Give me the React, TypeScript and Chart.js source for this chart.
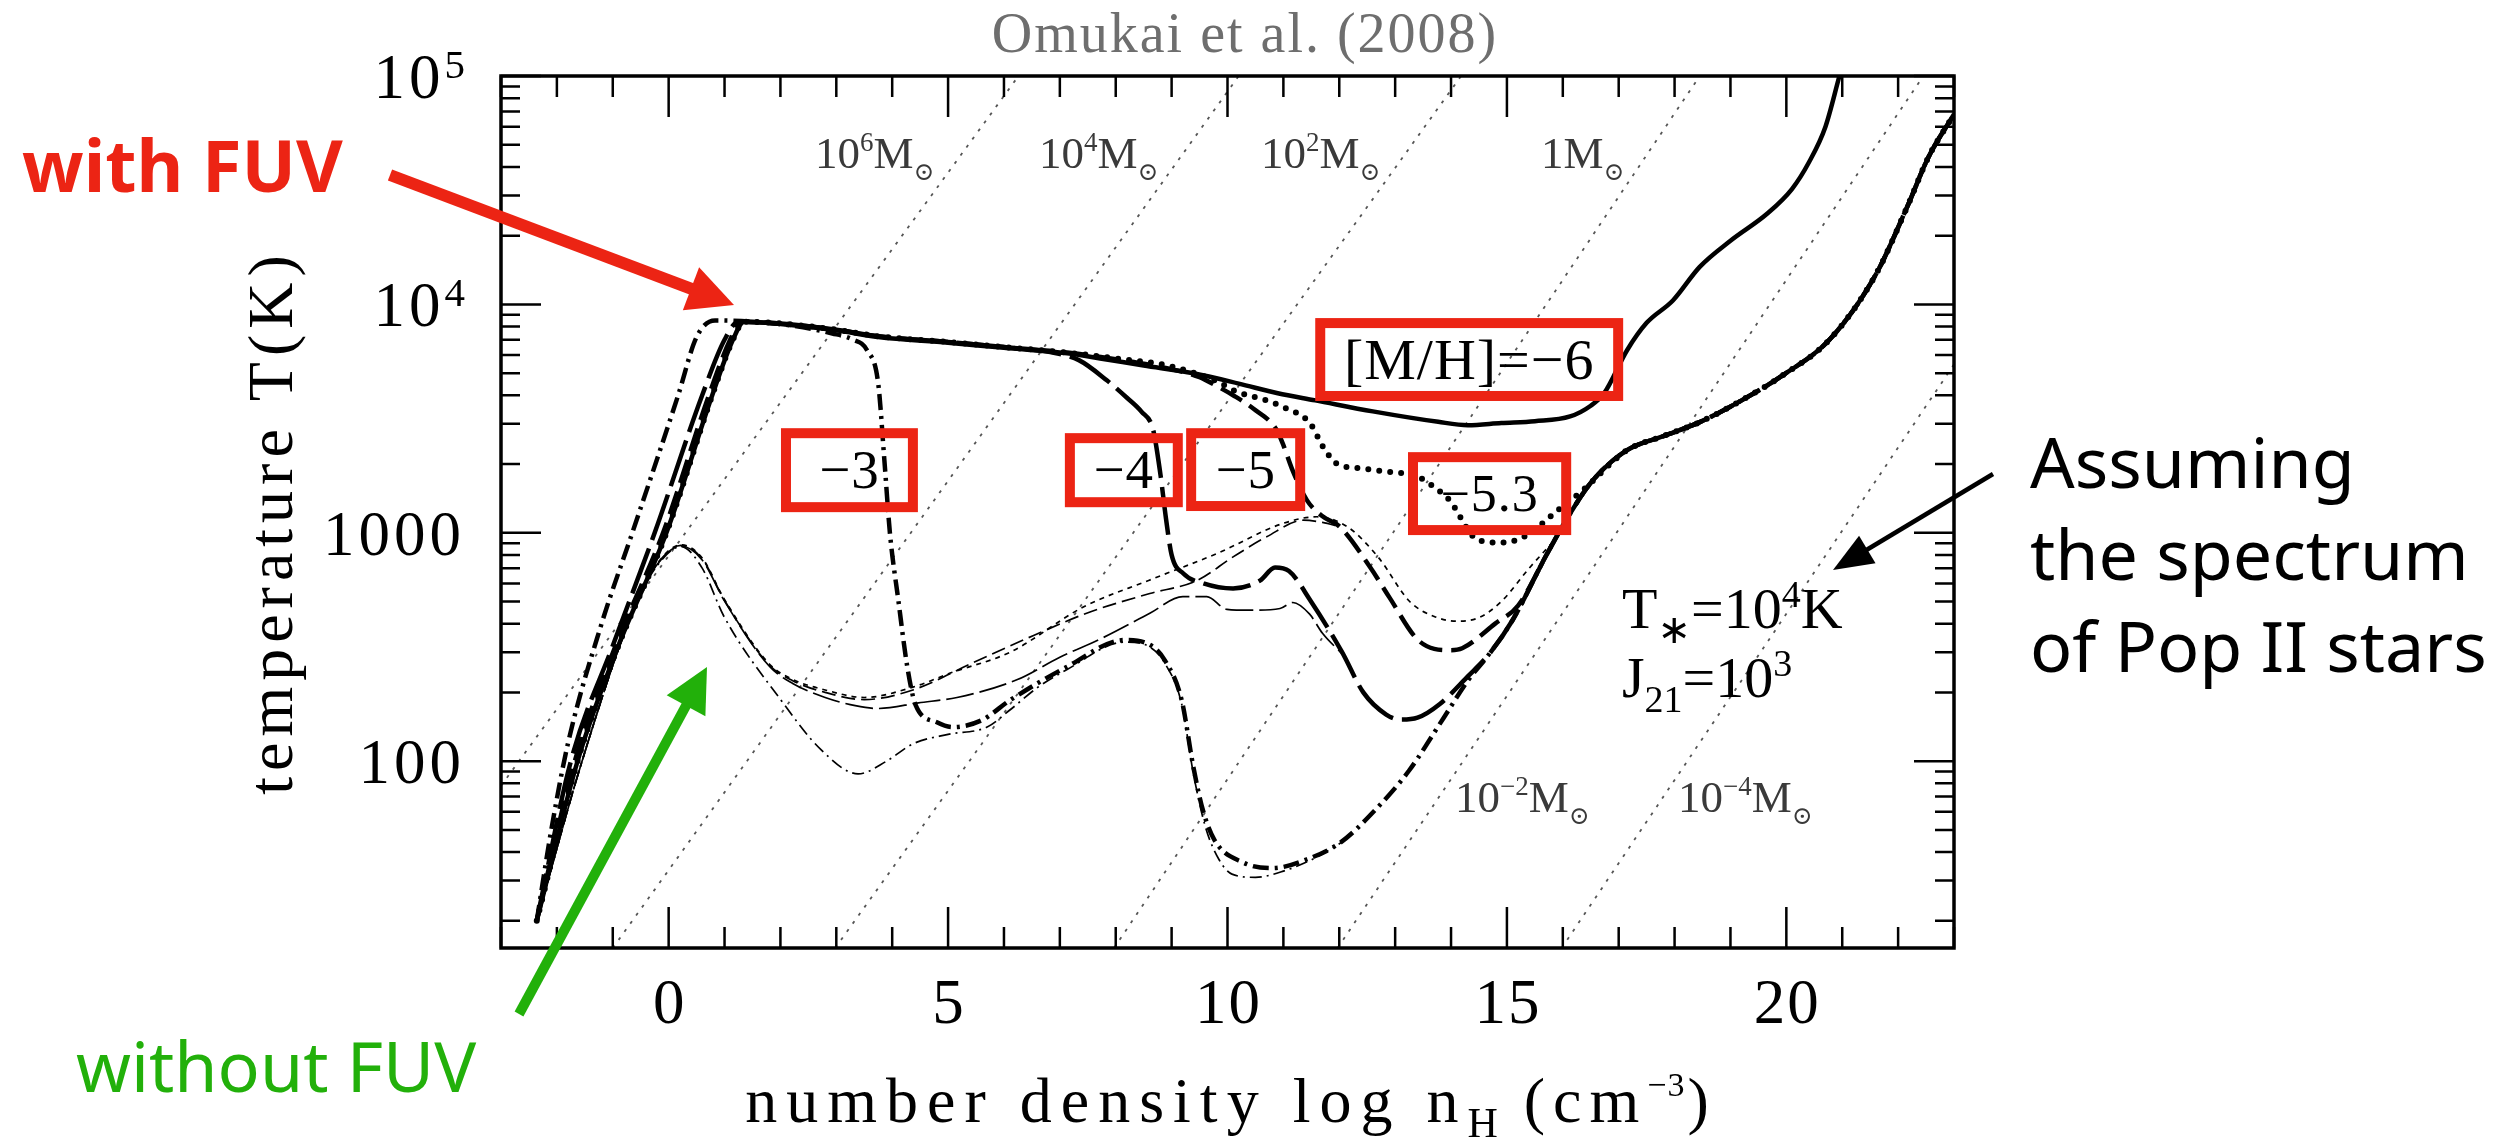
import { useEffect, useRef } from 'react';
import { Chart, registerables } from 'chart.js';

Chart.register(...registerables);

type Pt = [number, number];

const W = 2514;
const H = 1141;

// axis ranges: log n_H [cm^-3] and T [K]
const logNMin = -3;
const logNMax = 23;
const tempMin = 15.2;
const tempMax = 1e5;

const xTickValues = [0, 5, 10, 15, 20];
const xTickLabels = ['0', '5', '10', '15', '20'];
const yTickValues = [1e5, 1e4, 1e3, 1e2];
const yTickBase = ['10', '10', '1000', '100'];
const yTickExp = ['5', '4', '', ''];

// Jeans-mass reference lines (end points, log n_H and T)
const jeansLine6: Pt[] = [[-3, 78], [6.26, 1e5]];
const jeansLine4: Pt[] = [[-1.0, 15.2], [10.2, 1e5]];
const jeansLine2: Pt[] = [[2.98, 15.2], [14.18, 1e5]];
const jeansLine0: Pt[] = [[7.97, 15.2], [18.45, 1e5]];
const jeansLineM2: Pt[] = [[11.97, 15.2], [22.45, 1e5]];
const jeansLineM4: Pt[] = [[15.98, 15.2], [23, 5460]];
const jeansLabelBase = ['10', '10', '10', '1', '10', '10'];
const jeansLabelExp = ['6', '4', '2', '', '−2', '−4'];

// with FUV (J21 = 10^3, T* = 10^4 K), thick lines
const fuvM6: Pt[] = [
  [-2.36, 20], [-1.63, 100], [-0.9, 320], [-0.04, 1000], [0.78, 4000], [1.15, 7000], [1.35, 8400],
  [2.0, 8200], [3.0, 7700], [3.75, 7200], [5.0, 6800], [6.0, 6450], [7.13, 6110], [7.72, 5800],
  [8.5, 5400], [9.39, 4990], [10.2, 4500], [10.9, 4080], [11.57, 3800], [12.6, 3400], [13.77, 3060],
  [14.3, 2960], [14.9, 3025], [15.5, 3080], [16.13, 3230], [16.5, 3600], [16.74, 4080], [17.15, 6300],
  [17.5, 8300], [17.97, 10400], [18.45, 14600], [19.0, 19000], [19.66, 25000], [20.1, 32000],
  [20.4, 41700], [20.7, 60000], [20.95, 100000],
];
const fuvM53: Pt[] = [
  [-2.36, 20], [-1.63, 100], [-0.9, 320], [-0.04, 1000], [0.78, 4000], [1.15, 7000], [1.35, 8400],
  [2.0, 8250], [3.0, 7750], [3.75, 7250], [5.0, 6850], [6.0, 6500], [7.13, 6150], [8.0, 5800],
  [9.0, 5350], [9.81, 4600], [10.16, 4150], [10.69, 3800], [11.0, 3550], [11.48, 3010], [11.71, 2380],
  [11.95, 2010], [12.37, 1915], [12.79, 1860], [13.4, 1760], [13.75, 1550], [13.97, 1390], [14.48, 930],
  [14.9, 905], [15.3, 960], [15.92, 1260], [16.43, 1590], [16.8, 1950], [17.15, 2300], [17.8, 2650],
  [18.45, 3050], [19.2, 3800], [19.94, 4900], [20.77, 7000], [21.6, 13500], [22.17, 27000],
  [22.54, 44000], [23, 68000],
];
const fuvM5: Pt[] = [
  [-2.36, 20], [-1.68, 100], [-0.95, 320], [-0.1, 1000], [0.72, 4000], [1.1, 7000], [1.3, 8400],
  [2.0, 8250], [3.0, 7750], [3.75, 7250], [5.0, 6850], [6.0, 6500], [7.13, 6150], [8.0, 5750],
  [9.0, 5200], [9.5, 4800], [9.8, 4400], [10.1, 4000], [10.46, 3500], [10.88, 2820], [11.0, 2420],
  [11.15, 1915], [11.42, 1390], [11.7, 1180], [12.01, 1062], [12.55, 708], [12.9, 520], [13.38, 345],
  [13.7, 310], [13.98, 306], [14.2, 312], [14.79, 400], [15.2, 480], [15.72, 810], [16.13, 1215],
  [16.54, 1700], [17.15, 2300], [17.8, 2650], [18.45, 3050], [19.2, 3800], [19.94, 4900],
  [20.77, 7000], [21.6, 13500], [22.17, 27000], [22.54, 44000], [23, 68000],
];
const fuvM4: Pt[] = [
  [-2.36, 20], [-1.75, 100], [-1.0, 320], [-0.25, 1000], [0.6, 4000], [1.0, 7000], [1.25, 8400],
  [2.0, 8250], [3.0, 7750], [3.75, 7250], [5.0, 6850], [6.0, 6500], [6.8, 6200], [7.34, 5700],
  [7.84, 4650], [8.2, 3900], [8.46, 3390], [8.67, 2820], [8.8, 1800], [8.9, 1150], [9.0, 800],
  [9.21, 663], [9.57, 600], [10.1, 570], [10.58, 617], [10.85, 705], [11.1, 680], [11.48, 507],
  [12.05, 300], [12.43, 200], [12.84, 160], [13.1, 152], [13.4, 155], [13.8, 178], [14.3, 235],
  [14.69, 296], [15.1, 414], [15.72, 810], [16.13, 1215], [16.54, 1700], [17.15, 2300], [17.8, 2650],
  [18.45, 3050], [19.2, 3800], [19.94, 4900], [20.77, 7000], [21.6, 13500], [22.17, 27000],
  [22.54, 44000], [23, 68000],
];
const fuvM3: Pt[] = [
  [-2.36, 20], [-2.1, 50], [-1.8, 120], [-1.2, 400], [-0.65, 1000], [0.17, 4000], [0.5, 7200],
  [0.83, 8500], [1.3, 8450], [2.0, 8200], [2.93, 7460], [3.3, 7000], [3.55, 6300], [3.75, 4500],
  [3.86, 2080], [3.96, 993], [4.11, 507], [4.27, 259], [4.42, 176], [4.8, 148], [5.08, 141],
  [5.6, 151], [6.11, 185], [7.13, 259], [8.16, 339], [8.57, 327], [8.88, 276], [9.18, 185],
  [9.39, 94], [9.56, 61], [9.77, 45], [10.28, 36], [10.8, 34], [11.4, 37], [12.02, 44], [12.64, 61],
  [13.25, 91], [13.87, 155], [14.3, 225], [14.69, 296], [15.1, 414], [15.72, 810], [16.13, 1215],
  [16.54, 1700], [17.15, 2300], [17.8, 2650], [18.45, 3050], [19.2, 3800], [19.94, 4900],
  [20.77, 7000], [21.6, 13500], [22.17, 27000], [22.54, 44000], [23, 68000],
];

// without FUV, thin lines
const noFuvM53: Pt[] = [
  [-2.36, 20], [-1.55, 100], [-0.6, 480], [-0.2, 735], [0.22, 885], [0.6, 775], [0.99, 515],
  [1.81, 265], [2.22, 228], [2.8, 205], [3.5, 190], [4.37, 211], [5.08, 245], [6.11, 300],
  [7.42, 473], [8.6, 620], [9.81, 811], [11.0, 1100], [11.6, 1175], [12.15, 1060], [12.7, 780],
  [13.26, 500], [13.7, 430], [14.1, 410], [14.5, 425], [14.9, 500], [15.4, 700], [15.8, 900],
];
const noFuvM5: Pt[] = [
  [-2.36, 20], [-1.55, 100], [-0.6, 480], [-0.2, 730], [0.22, 880], [0.6, 770], [0.99, 510],
  [1.81, 262], [2.22, 225], [2.8, 200], [3.5, 186], [4.37, 205], [5.45, 270], [6.53, 355],
  [7.54, 450], [8.61, 542], [9.45, 617], [10.1, 784], [10.7, 960], [11.36, 1135], [11.7, 1110],
  [12.01, 1062],
];
const noFuvM4: Pt[] = [
  [-2.36, 20], [-1.55, 100], [-0.6, 480], [-0.2, 730], [0.22, 875], [0.6, 760], [0.99, 507],
  [1.81, 259], [2.22, 219], [2.8, 190], [3.34, 175], [3.75, 170], [4.47, 180], [5.16, 190],
  [6.23, 227], [7.0, 285], [7.77, 347], [8.61, 444], [9.2, 525], [9.63, 525], [9.99, 462],
  [10.4, 458], [10.94, 466], [11.17, 495], [11.47, 440], [11.7, 363], [12.05, 295],
];
const noFuvM3: Pt[] = [
  [-2.36, 20], [-1.55, 100], [-0.6, 480], [-0.2, 720], [0.22, 870], [0.6, 700], [0.99, 430],
  [2.01, 185], [2.73, 112], [3.39, 88], [3.9, 100], [4.37, 119], [5.0, 131], [5.7, 141], [6.1, 167],
  [6.6, 210], [7.13, 252], [8.16, 332], [8.57, 320], [8.88, 268], [9.18, 178], [9.39, 88], [9.6, 52],
  [9.85, 37], [10.08, 32], [10.5, 31], [11.0, 33], [11.6, 38], [12.1, 45],
];

const SERIF = "'Liberation Serif', 'DejaVu Serif', serif";
const SANS = "'Noto Sans', 'DejaVu Sans', sans-serif";
const RED = '#ec2414';
const GREEN = '#22b00a';

const toXY = (pts: Pt[]) => pts.map(([x, y]) => ({ x, y }));

type Run = { text: string; size: number; dy?: number; ls?: number; gap?: number; family?: string; weight?: string };

function setFont(ctx: CanvasRenderingContext2D, r: Run, family: string) {
  ctx.font = `${r.weight ?? 'normal'} ${r.size}px ${r.family ?? family}`;
  (ctx as any).letterSpacing = `${r.ls ?? 0}px`;
}

function drawRuns(
  ctx: CanvasRenderingContext2D,
  runs: Run[],
  x: number,
  y: number,
  align: 'left' | 'center' | 'right',
  family: string,
  color: string,
) {
  ctx.fillStyle = color;
  ctx.textAlign = 'left';
  ctx.textBaseline = 'alphabetic';
  const widths = runs.map((r) => {
    setFont(ctx, r, family);
    return ctx.measureText(r.text).width + (r.gap ?? 0);
  });
  const total = widths.reduce((a, b) => a + b, 0);
  let cx = align === 'left' ? x : align === 'right' ? x - total : x - total / 2;
  runs.forEach((r, i) => {
    setFont(ctx, r, family);
    ctx.fillText(r.text, cx, y + (r.dy ?? 0));
    cx += widths[i];
  });
  (ctx as any).letterSpacing = '0px';
}

function arrow(
  ctx: CanvasRenderingContext2D,
  x0: number, y0: number, x1: number, y1: number,
  width: number, headLen: number, headHalf: number, color: string,
) {
  const dx = x1 - x0;
  const dy = y1 - y0;
  const len = Math.hypot(dx, dy);
  const ux = dx / len;
  const uy = dy / len;
  const bx = x1 - ux * headLen;
  const by = y1 - uy * headLen;
  ctx.strokeStyle = color;
  ctx.fillStyle = color;
  ctx.lineWidth = width;
  ctx.lineCap = 'butt';
  ctx.beginPath();
  ctx.moveTo(x0, y0);
  ctx.lineTo(bx + ux * 2, by + uy * 2);
  ctx.stroke();
  ctx.beginPath();
  ctx.moveTo(x1, y1);
  ctx.lineTo(bx - uy * headHalf, by + ux * headHalf);
  ctx.lineTo(bx + uy * headHalf, by - ux * headHalf);
  ctx.closePath();
  ctx.fill();
}

const overlayPlugin = {
  id: 'figureOverlay',
  afterDraw(chart: any) {
    const ctx: CanvasRenderingContext2D = chart.ctx;
    const { left, right, top, bottom } = chart.chartArea;
    const xs = chart.scales.x;
    const ys = chart.scales.y;
    const px = (v: number) => xs.getPixelForValue(v);
    const py = (v: number) => ys.getPixelForValue(v);

    ctx.save();

    // frame and inward ticks
    ctx.strokeStyle = '#000';
    ctx.lineWidth = 2.5;
    ctx.beginPath();
    for (let v = Math.ceil(logNMin); v <= logNMax; v++) {
      const x = px(v);
      const len = v % 5 === 0 ? 41 : 21;
      ctx.moveTo(x, bottom);
      ctx.lineTo(x, bottom - len);
      ctx.moveTo(x, top);
      ctx.lineTo(x, top + len);
    }
    for (let d = 1; d <= 5; d++) {
      for (let m = 1; m <= 9; m++) {
        const v = m * Math.pow(10, d);
        if (v < tempMin || v > tempMax) continue;
        const y = py(v);
        const len = m === 1 ? 40 : 19;
        ctx.moveTo(left, y);
        ctx.lineTo(left + len, y);
        ctx.moveTo(right, y);
        ctx.lineTo(right - len, y);
      }
    }
    ctx.stroke();
    ctx.lineWidth = 3.5;
    ctx.strokeRect(left, top, right - left, bottom - top);

    // tick labels
    xTickValues.forEach((v, i) => {
      drawRuns(ctx, [{ text: xTickLabels[i], size: 63, ls: 2 }], px(v) + 1, 1023, 'center', SERIF, '#000');
    });
    yTickValues.forEach((v, i) => {
      const y = py(v) + 22;
      const runs: Run[] = [{ text: yTickBase[i], size: 63, ls: 4 }];
      if (yTickExp[i]) runs.push({ text: yTickExp[i], size: 41, dy: -20 });
      drawRuns(ctx, runs, 465, y, 'right', SERIF, '#000');
    });

    // axis titles
    drawRuns(
      ctx,
      [
        { text: 'number density log n', size: 64, ls: 9 },
        { text: 'H', size: 42, dy: 15, gap: 26 },
        { text: '(cm', size: 64, ls: 8 },
        { text: '−3', size: 34, dy: -26, ls: 1, gap: 2 },
        { text: ')', size: 64 },
      ],
      1227, 1122, 'center', SERIF, '#000',
    );
    ctx.save();
    ctx.translate(292, 522);
    ctx.rotate(-Math.PI / 2);
    drawRuns(ctx, [{ text: 'temperature T(K)', size: 64, ls: 6 }], 0, 0, 'center', SERIF, '#000');
    ctx.restore();

    // title
    drawRuns(ctx, [{ text: 'Omukai et al. (2008)', size: 56, ls: 2 }], 1245, 52, 'center', SERIF, '#6e6e6e');

    // Jeans-mass labels
    const massPos: Pt[] = [[815, 168], [1039, 168], [1261, 168], [1541, 168], [1455, 812], [1678, 812]];
    jeansLabelBase.forEach((b, i) => {
      const runs: Run[] = [{ text: b, size: 45 }];
      if (jeansLabelExp[i]) runs.push({ text: jeansLabelExp[i], size: 27, dy: -17 });
      runs.push({ text: 'M', size: 45 });
      runs.push({ text: '⊙', size: 25, dy: 12, family: "'DejaVu Serif', serif" });
      drawRuns(ctx, runs, massPos[i][0], massPos[i][1], 'left', SERIF, '#3a3a3a');
    });

    // radiation parameters
    drawRuns(
      ctx,
      [
        { text: 'T', size: 58 },
        { text: '∗', size: 40, dy: 15, family: "'DejaVu Sans', sans-serif" },
        { text: '=', size: 58 },
        { text: '10', size: 58 },
        { text: '4', size: 38, dy: -21 },
        { text: 'K', size: 58 },
      ],
      1622, 628, 'left', SERIF, '#000',
    );
    drawRuns(
      ctx,
      [
        { text: 'J', size: 58 },
        { text: '21', size: 38, dy: 15 },
        { text: '=', size: 58 },
        { text: '10', size: 58 },
        { text: '3', size: 38, dy: -21 },
      ],
      1622, 697, 'left', SERIF, '#000',
    );

    // metallicity labels with red frames
    const boxes: { x0: number; x1: number; t0: number; t1: number; label: string; size: number }[] = [
      { x0: 2.01, x1: 4.46, t0: 1231, t1: 2870, label: '−3', size: 55 },
      { x0: 7.09, x1: 9.2, t0: 1294, t1: 2730, label: '−4', size: 55 },
      { x0: 9.26, x1: 11.39, t0: 1245, t1: 2870, label: '−5', size: 55 },
      { x0: 13.23, x1: 16.15, t0: 977, t1: 2254, label: '−5.3', size: 52 },
      { x0: 11.57, x1: 17.08, t0: 3776, t1: 8710, label: '[M/H]=−6', size: 58 },
    ];
    boxes.forEach((b) => {
      const bx0 = px(b.x0);
      const bx1 = px(b.x1);
      const by0 = py(b.t1);
      const by1 = py(b.t0);
      drawRuns(ctx, [{ text: b.label, size: b.size, ls: 1 }], (bx0 + bx1) / 2, (by0 + by1) / 2 + b.size * 0.33, 'center', SERIF, '#000');
      ctx.strokeStyle = RED;
      ctx.lineWidth = 10;
      ctx.strokeRect(bx0 + 5, by0 + 5, bx1 - bx0 - 10, by1 - by0 - 10);
    });

    // callouts outside the frame
    drawRuns(ctx, [{ text: 'with FUV', size: 72, weight: 'bold' }], 22, 192, 'left', SANS, RED);
    arrow(ctx, 390, 175, 734, 305, 12, 46, 23, RED);
    drawRuns(ctx, [{ text: 'without FUV', size: 70 }], 76, 1092, 'left', SANS, GREEN);
    arrow(ctx, 519, 1014, 707, 667, 10, 44, 22, GREEN);
    ['Assuming', 'the spectrum', 'of Pop II stars'].forEach((t, i) => {
      drawRuns(ctx, [{ text: t, size: 70 }], 2030, 488 + i * 92, 'left', SANS, '#000');
    });
    arrow(ctx, 1993, 474, 1833, 570, 4.5, 40, 16, '#000');

    ctx.restore();
  },
};

export default function App() {
  const canvasRef = useRef<HTMLCanvasElement | null>(null);

  useEffect(() => {
    const canvas = canvasRef.current;
    if (!canvas) return;

    const jeans = (pts: Pt[]) => ({
      data: toXY(pts),
      borderColor: '#555',
      borderWidth: 1.8,
      borderDash: [3, 7],
      pointRadius: 0,
      tension: 0,
    });
    const thick = (pts: Pt[], dash: number[], cap: CanvasLineCap = 'butt', width = 4.5) => ({
      data: toXY(pts),
      borderColor: '#000',
      borderWidth: width,
      borderDash: dash,
      borderCapStyle: cap,
      borderJoinStyle: 'round' as CanvasLineJoin,
      pointRadius: 0,
      cubicInterpolationMode: 'monotone' as const,
    });
    const thin = (pts: Pt[], dash: number[]) => ({
      data: toXY(pts),
      borderColor: '#000',
      borderWidth: 1.7,
      borderDash: dash,
      pointRadius: 0,
      cubicInterpolationMode: 'monotone' as const,
    });

    const chart = new Chart(canvas, {
      type: 'line',
      data: {
        datasets: [
          thick(fuvM6, []),
          thick(fuvM53, [0, 11], 'round', 6),
          thick(fuvM5, [24, 9]),
          thick(fuvM4, [48, 9]),
          thick(fuvM3, [16, 6, 3, 6]),
          thin(noFuvM53, [5, 5]),
          thin(noFuvM5, [14, 6]),
          thin(noFuvM4, [28, 6]),
          thin(noFuvM3, [12, 5, 2, 5]),
          jeans(jeansLine6),
          jeans(jeansLine4),
          jeans(jeansLine2),
          jeans(jeansLine0),
          jeans(jeansLineM2),
          jeans(jeansLineM4),
        ] as any,
      },
      options: {
        responsive: false,
        animation: false,
        devicePixelRatio: 1,
        events: [],
        layout: { padding: { left: 501, right: W - 1954, top: 76, bottom: H - 948 } },
        plugins: { legend: { display: false }, tooltip: { enabled: false }, title: { display: false } },
        scales: {
          x: { type: 'linear', min: logNMin, max: logNMax, display: false },
          y: { type: 'logarithmic', min: tempMin, max: tempMax, display: false },
        },
      },
      plugins: [overlayPlugin],
    });

    return () => chart.destroy();
  }, []);

  return (
    <div style={{ position: 'absolute', left: 0, top: 0, width: W, height: H, background: '#fff', overflow: 'hidden' }}>
      <canvas ref={canvasRef} width={W} height={H} style={{ width: W, height: H, display: 'block' }} />
    </div>
  );
}
